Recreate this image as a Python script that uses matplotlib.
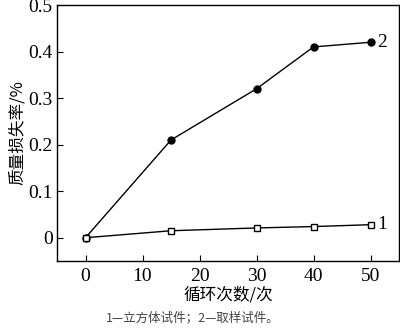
import matplotlib
matplotlib.use("Agg")
import matplotlib.pyplot as plt

cycles = [0, 15, 30, 40, 50]
loss_cube = [0.0, 0.015, 0.021, 0.024, 0.028]
loss_core = [0.0, 0.21, 0.32, 0.41, 0.42]
xticks = [0, 10, 20, 30, 40, 50]
yticks = [0, 0.1, 0.2, 0.3, 0.4, 0.5]
ytick_labels = ["0", "0.1", "0.2", "0.3", "0.4", "0.5"]

serif = ["Liberation Serif", "DejaVu Serif"]
cjk = ["Noto Sans CJK SC", "DejaVu Sans"]

fig = plt.figure(figsize=(4.0, 3.29), dpi=100)
ax = fig.add_axes([0.1425, 0.2067, 0.855, 0.778])

ax.plot(cycles, loss_core, color="black", lw=1.0, marker="o", ms=5,
        mfc="black", mec="black", clip_on=False)
ax.plot(cycles, loss_cube, color="black", lw=1.0, marker="s", ms=5,
        mfc="white", mec="black", mew=1.0, clip_on=False)

ax.text(cycles[-1] + 1.2, loss_core[-1], "2", fontsize=14, family=serif,
        va="center", ha="left")
ax.text(cycles[-1] + 1.2, loss_cube[-1], "1", fontsize=14, family=serif,
        va="center", ha="left")

ax.set_xlim(-5, 55)
ax.set_ylim(-0.05, 0.5)
ax.set_xticks(xticks)
ax.set_yticks(yticks)
ax.set_yticklabels(ytick_labels)
ax.tick_params(direction="in", length=4, width=0.8, labelsize=14,
               top=False, right=False)
ax.tick_params(axis="x", pad=5)
ax.tick_params(axis="y", pad=3)
for lab in ax.get_xticklabels() + ax.get_yticklabels():
    lab.set_family(serif)
for s in ax.spines.values():
    s.set_linewidth(1.0)

ax.set_xlabel("循环次数/次", fontsize=12, family=cjk, labelpad=1)
ax.set_ylabel("质量损失率/%", fontsize=12, family=cjk, labelpad=2)

fig.text(0.483, 0.033, "1—立方体试件；2—取样试件。", fontsize=9,
         family=cjk, color="#444444", ha="center", va="center")

fig.savefig("out.png", dpi=100)
